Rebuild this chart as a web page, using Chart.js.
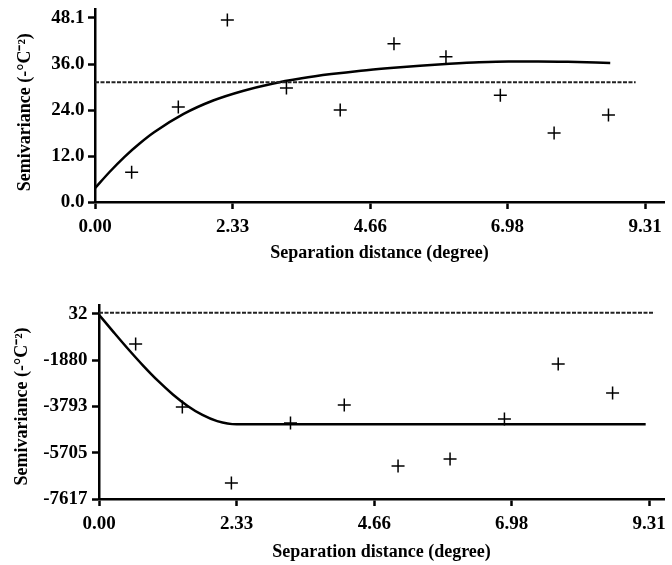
<!DOCTYPE html>
<html>
<head>
<meta charset="utf-8">
<script src="https://cdn.jsdelivr.net/npm/chart.js@4.4.1/dist/chart.umd.min.js"></script>
<style>
    body { margin: 0; background: #fff; }
    canvas.panel { position: absolute; left: 0; }
</style>
</head>
<body>
<canvas id="topChart" class="panel" width="672" height="282" style="top:0"></canvas>
<canvas id="bottomChart" class="panel" width="672" height="283" style="top:282px"></canvas>
<script>
// Экспериментальные точки (общие лаги для обоих графиков)
const lagDistances = [0.62, 1.41, 2.24, 3.24, 4.15, 5.06, 5.94, 6.86, 7.77, 8.69];
const topSemivariance = [7.8, 24.8, 47.5, 29.8, 24.0, 41.3, 37.9, 27.9, 18.0, 22.7];
const bottomSemivariance = [-1208, -3814, -6956, -4475, -3731, -6253, -5964, -4310, -2036, -3235];

// Модельные кривые
const topModelDistance = [0, 0.25, 0.5, 0.75, 1.0, 1.5, 2.0, 2.5, 3.0, 3.5, 4.0, 4.5, 5.0, 5.5, 6.0, 6.5, 7.0, 7.5, 8.0, 8.72];
const topModelValues = [3.6, 7.9, 11.8, 15.2, 18.2, 23.0, 26.5, 29.0, 30.9, 32.3, 33.4, 34.3, 35.0, 35.6, 36.1, 36.5, 36.7, 36.7, 36.6, 36.3];
const bottomModelDistance = [0, 0.25, 0.5, 0.75, 1.0, 1.25, 1.5, 1.75, 2.0, 2.33, 9.25];
const bottomModelValues = [0, -726, -1436, -2111, -2737, -3295, -3769, -4143, -4399, -4529, -4529];

// Пунктирная линия (дисперсия)
const topSillDistance = [0, 9.15];
const topSillValues = [31.3, 31.3];
const bottomSillDistance = [0, 9.40];
const bottomSillValues = [86, 86];

// Подписи осей
const xTickValues = [0, 2.33, 4.66, 6.98, 9.31];
const topYTickValues = [0, 12, 24, 36, 48.1];
const bottomYTickValues = [-7617, -5705, -3793, -1880, 32];

const FONT_FAMILY = '"Liberation Serif", "Times New Roman", serif';
const X_TITLE = 'Separation distance (degree)';
const Y_TITLE = 'Semivariance (-°C⁻²)';

function toPoints(xs, ys) {
    return xs.map((x, i) => ({x: x, y: ys[i]}));
}

function fixedTicks(values) {
    return (scale) => {
        scale.ticks = values.map((v) => ({value: v}));
    };
}

/**
 * Рисует одну вариограмму
 */
function drawVariogram(canvasId, cfg) {
    const ctx = document.getElementById(canvasId).getContext('2d');
    const tickFont = {family: FONT_FAMILY, size: 19, weight: 'bold'};
    const titleFont = {family: FONT_FAMILY, size: 18, weight: 'bold'};

    new Chart(ctx, {
        type: 'scatter',
        data: {
            datasets: [
                {
                    data: toPoints(cfg.sillX, cfg.sillY),
                    showLine: true,
                    borderColor: '#222',
                    borderWidth: 2,
                    borderDash: [4, 1.5],
                    pointRadius: 0,
                },
                {
                    data: toPoints(cfg.modelX, cfg.modelY),
                    showLine: true,
                    borderColor: '#000',
                    borderWidth: 2.5,
                    cubicInterpolationMode: 'monotone',
                    pointRadius: 0,
                },
                {
                    data: toPoints(lagDistances, cfg.points),
                    pointStyle: 'cross',
                    pointRadius: 6.5,
                    pointBorderWidth: 1.5,
                    borderColor: '#000',
                    backgroundColor: '#000',
                },
            ],
        },
        options: {
            responsive: false,
            animation: false,
            devicePixelRatio: 1,
            layout: {padding: {top: cfg.padTop, left: 0, right: 0, bottom: 0}},
            plugins: {legend: {display: false}, tooltip: {enabled: false}},
            scales: {
                x: {
                    type: 'linear',
                    min: 0,
                    max: cfg.xMax,
                    afterBuildTicks: fixedTicks(xTickValues),
                    afterFit: (scale) => {
                        scale.height = cfg.xHeight;
                        scale.paddingLeft = 0;
                        scale.paddingRight = 0;
                    },
                    border: {display: true, color: '#000', width: 2.5},
                    grid: {drawOnChartArea: false, drawTicks: true, tickLength: 7, tickColor: '#000', tickWidth: 2.5},
                    ticks: {
                        autoSkip: false,
                        maxRotation: 0,
                        padding: 6.5,
                        color: '#000',
                        font: tickFont,
                        callback: (v) => Number(v).toFixed(2),
                    },
                    title: {
                        display: true,
                        text: X_TITLE,
                        color: '#000',
                        font: titleFont,
                        padding: {top: 0, bottom: cfg.xTitlePad},
                    },
                },
                y: {
                    type: 'linear',
                    min: cfg.yMin,
                    max: cfg.yMax,
                    afterBuildTicks: fixedTicks(cfg.yTicks),
                    afterFit: (scale) => {
                        scale.width = cfg.yWidth;
                        scale.paddingTop = 0;
                        scale.paddingBottom = 0;
                    },
                    border: {display: true, color: '#000', width: 2.5},
                    grid: {drawOnChartArea: false, drawTicks: true, tickLength: 7, tickColor: '#000', tickWidth: 2.5},
                    ticks: {
                        autoSkip: false,
                        padding: cfg.yTickPad,
                        color: '#000',
                        font: tickFont,
                        callback: cfg.yFormat,
                    },
                    title: {
                        display: true,
                        // неразрывные пробелы сдвигают подпись вниз, как на оригинале
                        text: Y_TITLE + '\u00a0'.repeat(cfg.yTitleShift),
                        color: '#000',
                        font: titleFont,
                        padding: {top: cfg.yTitlePad, bottom: 0},
                    },
                },
            },
        },
    });
}

drawVariogram('topChart', {
    points: topSemivariance,
    modelX: topModelDistance,
    modelY: topModelValues,
    sillX: topSillDistance,
    sillY: topSillValues,
    xMax: 9.63,
    yMin: 0,
    yMax: 50.4,
    yTicks: topYTickValues,
    yFormat: (v) => Number(v).toFixed(1),
    padTop: 9,
    xHeight: 80,
    yWidth: 95,
    yTickPad: 3.5,
    xTitlePad: 18,
    yTitlePad: 15,
    yTitleShift: 3,
});

drawVariogram('bottomChart', {
    points: bottomSemivariance,
    modelX: bottomModelDistance,
    modelY: bottomModelValues,
    sillX: bottomSillDistance,
    sillY: bottomSillValues,
    xMax: 9.56,
    yMin: -7617,
    yMax: 404,
    yTicks: bottomYTickValues,
    yFormat: (v) => String(Math.round(v)),
    padTop: 23,
    xHeight: 66,
    yWidth: 99,
    yTickPad: 4.5,
    xTitlePad: 2,
    yTitlePad: 12,
    yTitleShift: 2,
});
</script>
</body>
</html>
